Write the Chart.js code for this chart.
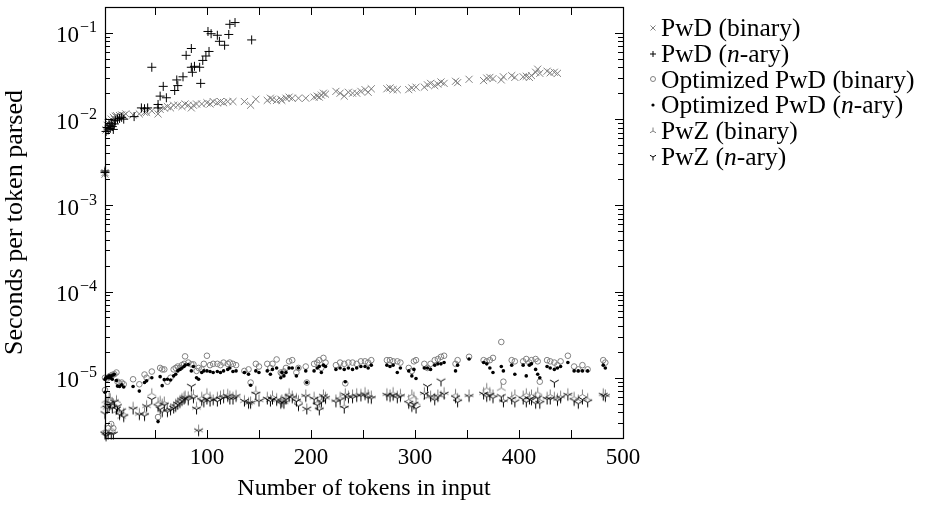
<!DOCTYPE html>
<html>
<head>
<meta charset="utf-8">
<script src="https://cdn.jsdelivr.net/npm/chart.js@4.4.1/dist/chart.umd.min.js"></script>
<style>
html,body{margin:0;padding:0;background:#fff;}
#wrap{position:relative;width:929px;height:508px;}
#c{position:absolute;left:0;top:0;}
#legend{position:absolute;left:646px;top:15px;font-family:"Liberation Serif","Times New Roman",serif;font-size:25.5px;color:#000;}
.row{height:25.8px;line-height:25.8px;white-space:nowrap;display:flex;align-items:center;}
.row canvas{width:14px;height:14px;margin-right:1px;flex:none;}
</style>
</head>
<body>
<div id="wrap"><canvas id="c" width="929" height="508"></canvas><div id="legend"></div></div>
<script>
// ---------------- DATA ----------------
const seriesNames = ['PwD (binary)', 'PwD (n-ary)', 'Optimized PwD (binary)', 'Optimized PwD (n-ary)', 'PwZ (binary)', 'PwZ (n-ary)'];

// PwD (binary): token counts and seconds per token, in milliseconds
const pwdBinTokens = [2,2,3,4,5,6,7,8,9,10, 11,12,13,14,16,18,20,22,29,35, 40,42,47,53,55,59,62,65,68,72, 76,79,82,85,87,90,95,100,103,106, 110,113,116,120,125,136,142,147,158,161, 163,167,171,172,176,179,182,188,195,203, 206,208,210,212,214,224,228,232,236,240, 244,248,252,255,258,273,276,279,283,294, 297,301,309,312,315,319,322,325,328,339, 341,352,366,369,372,375,383,385,393,396, 404,407,410,412,416,418,420,427,430,434, 437];
const pwdBinMs = [2.4,2.3,7.5,8.5,9.0,9.5,8.0,10,9.2,10.5, 10,10.8,11,10.5,11,11.2,11,11.5,11.2,11.5, 12,12,12.5,11.5,13,13.5,14,13.5,14.5,14.5, 14,15,14.5,13.5,14.5,15,15,15.5,15,16, 15.5,16,15.5,16,16,16,14.5,17,16.5,17.5, 17,16.5,17,16.5,17.5,18,17.5,17.5,17.5,18, 18.5,18,19,20,19.5,21,20,18.5,20.5,20, 20,21,22,20.5,22.5,22.5,23,22,22,22, 23,23.5,23.5,25,26,24.5,25.5,27,26,27.5, 26.5,29,28,30,30.5,29.5,28.5,31,32,30.5, 31,31.5,30.5,32,35,38,34,36,34.5,35, 34];

// PwD (n-ary): token counts and milliseconds per token
const pwdNaryTokens = [2,2,3,4,5,6,7,8,9,10, 11,12,14,16,18,20,30,37,40,43, 47,53,53,55,58,61,69,71,72,77, 80,85,85,86,88,93,94,96,99,101, 102,104,110,112,117,121,122,127,143];
const pwdNaryMs = [2.4,2.5,7.2,8.0,7.5,8.5,7.8,9.0,8.2,7.6, 8.8,9.6,10,10.2,10.5,10,10.7,13.5,13.2,13.5, 40,13.5,14.8,18.5,24,17.7,21.5,28.5,24.5,31, 55,66,40,35,41,40,26,48,54,104, 61,98,94,80,72,96,126,132,83];

// Shared inputs for the optimized PwD and PwZ runs (token counts)
const tokens = [2,2,3,4,5,6,7,8,9,10, 11,13,14,16,18,20,29,35,40,42, 47,53,55,57,59,62,65,68,70,72, 74,76,78,79,82,85,87,90,92,95, 97,100,103,106,110,113,116,120,122,125, 128,136,140,142,147,150,158,161,163,167, 171,172,174,176,179,182,186,188,195,196, 203,206,208,210,212,214,224,228,232,233, 236,240,244,248,252,255,258,273,276,279, 283,286,294,297,299,301,309,312,315,319, 322,325,328,339,341,352,366,369,372,375, 383,385,393,396,404,407,410,412,416,418, 420,427,430,434,437,440,447,453,457,461, 466,481,483];

// Seconds per token parsed, in microseconds
const optBinUs = [7.2,10,2.3,9.8,2.6,10.3,10.5,2.9,10.8,2.6, 11,11.5,9.0,8.6,8.8,8.4,9.6,8.4,10.9,10, 11.8,3.5,13,12.5,12.5,9.0,10,12.5,13,13.5, 13,14,14.5,17.7,15,14.3,14.3,12,13,12.5, 14.5,18,14,14.5,14.5,14,15,14.5,15,14.5, 14,12,12.5,8.8,14.5,13.5,14.5,13,14.5,16.3, 11.5,11.2,11.8,13,15.5,16,11.5,13,13.5,8.8, 14.5,15,16,13,17,15,14,15,14.5,8.6, 15,15,14.5,15.5,15.5,15,16,16,16,15.5, 15.5,15,13,12,15.5,16,14.5,13,14.5,16, 16.5,17.5,18,14.5,16,17.5,16,15.5,16,17, 26,9.0,16,15.5,15.5,16.5,15,16,16.5,15.5, 9.0,16,15.5,15,14,15.5,18,13.5,12.5,14, 12.5,16,15];
const optNaryUs = [6.8,9.6,10,10.2,10,10.5,10,10.5,9.6,10.8, 11,9.3,8.0,7.9,8.3,7.8,7.9,7.0,8.8,9.2, 10,3.1,10.3,8.1,9.5,9.6,9.4,10.5,11,12, 12.5,13,13.5,14,14.2,12,13.5,10,9.6,11.5, 12,12,11.8,11.5,11.8,11.5,12,12.5,13,11.8, 12,11.5,11,8.2,12,11.5,12,11,12.5,13, 10,11.5,10.5,11.5,13,13,10.5,13,12,8.8, 12,13,13.5,11.5,14,13.5,12.5,13,12.5,9.0, 13,12.5,13,13.5,13.5,13,14,14,13.5,14, 11.5,13,12,10.5,12.5,9.8,13,13,12.5,14, 14.5,14.5,15,12,14,16.5,15,14.5,13,11.5, 13.5,12,14,11,14,10.5,14,14.5,12.5,11, 10,13.5,13,12.5,13,13.5,15,12,12,12, 12,14,13];
const pwzBinUs = [2.5,4.8,5.5,4.6,5.3,6.0,5.8,2.6,5.2,5.0, 4.6,5.5,4.2,4.0,3.6,3.9,4.6,3.9,4.0,4.8, 6.6,5.2,5.4,5.0,5.3,4.4,4.4,4.6,5.0,5.2, 5.5,5.8,6.0,6.2,6.1,6.0,6.4,4.6,2.5,6.0, 5.6,6.6,6.0,5.6,6.0,6.2,6.4,6.5,6.2,6.0, 6.3,5.5,5.2,5.3,7.0,5.6,6.0,5.6,6.2,5.8, 5.4,5.6,5.3,5.8,6.6,6.2,5.8,5.5,6.4,4.4, 6.0,5.3,4.6,5.6,6.4,6.0,5.6,6.0,4.8,6.6, 6.2,6.4,6.6,6.5,6.8,6.4,6.2,6.6,6.4,6.8, 6.2,6.5,5.6,6.4,6.0,5.2,6.8,6.0,6.2,5.8, 6.4,6.2,6.8,6.5,5.8,6.4,6.8,7.6,6.8,6.4, 7.6,5.6,6.0,6.4,6.2,6.6,6.0,6.4,6.0,6.8, 5.6,6.0,6.4,6.0,5.8,6.2,6.6,6.0,5.6,6.4, 5.8,6.6,6.4];
const pwzNaryUs = [2.2,3.8,2.1,4.4,2.2,4.7,5.0,2.2,4.4,2.2, 5.2,4.3,4.6,3.7,4.1,3.5,4.3,3.7,3.6,4.6, 5.6,4.6,4.3,4.0,4.8,4.0,4.2,4.4,4.6,4.9, 5.1,5.4,5.6,5.8,5.5,7.9,5.8,4.3,2.4,5.4, 5.2,5.6,5.3,5.5,5.3,5.6,5.8,6.0,5.6,5.6, 6.0,5.3,5.0,5.0,6.4,5.3,5.6,5.3,5.6,5.4, 5.0,5.2,5.0,5.6,6.0,5.8,5.3,4.7,6.0,4.3, 5.6,4.8,4.2,5.2,6.0,5.7,5.2,5.5,4.4,6.2, 5.8,5.8,6.0,6.1,6.3,5.8,5.7,6.2,6.0,6.2, 5.8,6.0,5.0,4.6,4.9,4.4,6.4,7.9,6.0,5.5, 6.0,9.1,6.4,5.8,5.2,6.0,6.4,6.0,6.2,5.8, 6.0,5.2,5.6,5.2,5.6,5.2,5.6,5.5,5.0,5.8, 5.0,5.6,5.6,8.8,5.4,5.8,6.2,5.4,5.0,5.6, 5.2,6.2,6.0];

// Axis ticks
const xTickValues = [50,100,150,200,250,300,350,400,450,500];
const xTickLabels = ['', '100', '', '200', '', '300', '', '400', '', '500'];
const yMin = 2e-6, yMax = 0.2;
const yDecades = [-6,-5,-4,-3,-2,-1];
const yExponentLabels = ['−6','−5','−4','−3','−2','−1'];

// ---------------- RENDERING ----------------
const FONT = '"Liberation Serif", "Times New Roman", serif';
const GRAY = '#808080';
const BLACK = '#000000';

function makeTri(stemUp, color, r) {
  const size = Math.ceil(r * 2 + 3);
  const c = document.createElement('canvas');
  c.width = size; c.height = size;
  const g = c.getContext('2d');
  const cx = size / 2, cy = size / 2;
  g.strokeStyle = color; g.lineWidth = 1;
  g.beginPath();
  const angles = stemUp ? [-90, 30, 150] : [90, -30, -150];
  angles.forEach(a => {
    const rad = a * Math.PI / 180;
    g.moveTo(cx, cy);
    g.lineTo(cx + r * Math.cos(rad), cy + r * Math.sin(rad));
  });
  g.stroke();
  return c;
}
const triUpGray = makeTri(true, GRAY, 5);
const triDownBlack = makeTri(false, BLACK, 5);

// y ticks: 1..9 x 10^k inside the range; decade index for majors
const yTicks = [];
const yTickDecade = [];
yDecades.forEach((k, ki) => {
  for (let m = 1; m <= 9; m++) {
    const v = m * Math.pow(10, k);
    if (v >= yMin * 0.999 && v <= yMax * 1.001) {
      yTicks.push(v);
      yTickDecade.push(m === 1 ? ki : -1);
    }
  }
});

function pts(xs, ys, scale) {
  return xs.map((x, i) => ({x: x, y: ys[i] * scale}));
}

const datasets = [
  {label: seriesNames[0], data: pts(pwdBinTokens, pwdBinMs, 1e-3), pointStyle: 'crossRot', pointRadius: 5,
   pointBorderColor: GRAY, pointBackgroundColor: GRAY, pointBorderWidth: 1, order: 5},
  {label: seriesNames[1], data: pts(pwdNaryTokens, pwdNaryMs, 1e-3), pointStyle: 'cross', pointRadius: 4.5,
   pointBorderColor: BLACK, pointBackgroundColor: BLACK, pointBorderWidth: 1, order: 4},
  {label: seriesNames[2], data: pts(tokens, optBinUs, 1e-6), pointStyle: 'circle', pointRadius: 2.8,
   pointBorderColor: GRAY, pointBackgroundColor: 'rgba(0,0,0,0)', pointBorderWidth: 1, order: 3},
  {label: seriesNames[3], data: pts(tokens, optNaryUs, 1e-6), pointStyle: 'circle', pointRadius: 1.8,
   pointBorderColor: BLACK, pointBackgroundColor: BLACK, pointBorderWidth: 0, order: 2},
  {label: seriesNames[4], data: pts(tokens, pwzBinUs, 1e-6), pointStyle: triUpGray, pointRadius: 5,
   pointBorderColor: GRAY, pointBackgroundColor: GRAY, pointBorderWidth: 1, order: 1},
  {label: seriesNames[5], data: pts(tokens, pwzNaryUs, 1e-6), pointStyle: triDownBlack, pointRadius: 5,
   pointBorderColor: BLACK, pointBackgroundColor: BLACK, pointBorderWidth: 1, order: 0}
];
datasets.forEach(d => { d.clip = false; d.showLine = false; d.pointHoverRadius = d.pointRadius; });

const framePlugin = {
  id: 'frame',
  afterDraw(chart) {
    const {ctx, chartArea: a} = chart;
    const xs = chart.scales.x, ys = chart.scales.y;
    ctx.save();
    ctx.strokeStyle = '#000';
    ctx.lineWidth = 1;
    ctx.beginPath();
    xTickValues.forEach(v => {
      const px = Math.round(xs.getPixelForValue(v)) + 0.5;
      ctx.moveTo(px, a.bottom); ctx.lineTo(px, a.bottom - 8);
      ctx.moveTo(px, a.top); ctx.lineTo(px, a.top + 8);
    });
    yTicks.forEach((v, i) => {
      const py = Math.round(ys.getPixelForValue(v)) + 0.5;
      const len = yTickDecade[i] >= 0 ? 8 : 5;
      ctx.moveTo(a.left, py); ctx.lineTo(a.left + len, py);
      ctx.moveTo(a.right, py); ctx.lineTo(a.right - len, py);
    });
    ctx.stroke();
    ctx.lineWidth = 1.2;
    ctx.strokeRect(Math.round(a.left) + 0.5, Math.round(a.top) + 0.5, Math.round(a.right - a.left), Math.round(a.bottom - a.top));

    // y tick labels: "10" with a raised exponent
    ctx.fillStyle = '#000';
    ctx.textBaseline = 'alphabetic';
    yTicks.forEach((v, i) => {
      const d = yTickDecade[i];
      if (d < 0) return;
      const py = ys.getPixelForValue(v);
      ctx.font = '16px ' + FONT;
      const ew = ctx.measureText(yExponentLabels[d]).width;
      const right = a.left - 8;
      ctx.textAlign = 'left';
      ctx.fillText(yExponentLabels[d], right - ew, py - 0.5);
      ctx.font = '23px ' + FONT;
      ctx.textAlign = 'right';
      ctx.fillText('10', right - ew - 1, py + 9.5);
    });
    ctx.restore();
  }
};

Chart.defaults.font.family = FONT;
Chart.defaults.color = '#000';

new Chart(document.getElementById('c'), {
  type: 'scatter',
  data: {datasets: datasets},
  plugins: [framePlugin],
  options: {
    responsive: false,
    animation: false,
    devicePixelRatio: 1,
    layout: {padding: {left: 0, top: 7, right: 306, bottom: 0}},
    plugins: {legend: {display: false}, tooltip: {enabled: false}},
    events: [],
    scales: {
      x: {
        type: 'linear', min: 2, max: 500,
        grid: {display: false, drawTicks: false},
        border: {display: false},
        afterBuildTicks: s => { s.ticks = xTickValues.map(v => ({value: v})); },
        afterFit: s => { s.height = 70; s.paddingLeft = 0; s.paddingRight = 0; },
        ticks: {autoSkip: false, maxRotation: 0, minRotation: 0, padding: 6, color: '#000',
                font: {family: FONT, size: 23},
                callback: (v, i) => xTickLabels[i] ? xTickLabels[i] : null},
        title: {display: true, text: 'Number of tokens in input', color: '#000',
                font: {family: FONT, size: 24}, padding: {top: 0, bottom: 5}}
      },
      y: {
        type: 'logarithmic', min: yMin, max: yMax,
        grid: {display: false, drawTicks: false},
        border: {display: false},
        afterBuildTicks: s => { s.ticks = yTicks.map(v => ({value: v})); },
        afterFit: s => { s.width = 105; s.paddingTop = 0; s.paddingBottom = 0; },
        ticks: {display: false},
        title: {display: true, text: 'Seconds per token parsed', color: '#000',
                font: {family: FONT, size: 26}, padding: {top: 0, bottom: 0}}
      }
    }
  }
});

// ---------------- LEGEND (HTML, mixed italic) ----------------
function legendMarker(kind) {
  const c = document.createElement('canvas');
  c.width = 14; c.height = 14;
  const g = c.getContext('2d');
  const cx = 7, cy = 7;
  g.lineWidth = 1;
  if (kind === 0) {
    g.strokeStyle = GRAY; g.beginPath();
    g.moveTo(cx - 2.5, cy - 2.5); g.lineTo(cx + 2.5, cy + 2.5);
    g.moveTo(cx + 2.5, cy - 2.5); g.lineTo(cx - 2.5, cy + 2.5); g.stroke();
  } else if (kind === 1) {
    g.strokeStyle = BLACK; g.beginPath();
    g.moveTo(cx - 3, cy); g.lineTo(cx + 3, cy);
    g.moveTo(cx, cy - 3); g.lineTo(cx, cy + 3); g.stroke();
  } else if (kind === 2) {
    g.strokeStyle = GRAY; g.beginPath(); g.arc(cx, cy, 2.5, 0, Math.PI * 2); g.stroke();
  } else if (kind === 3) {
    g.fillStyle = BLACK; g.beginPath(); g.arc(cx, cy, 1.6, 0, Math.PI * 2); g.fill();
  } else {
    const img = makeTri(kind === 4, kind === 4 ? GRAY : BLACK, 3.5);
    g.drawImage(img, cx - img.width / 2, cy - img.height / 2);
  }
  return c;
}
const legend = document.getElementById('legend');
seriesNames.forEach((name, i) => {
  const row = document.createElement('div');
  row.className = 'row';
  row.appendChild(legendMarker(i));
  const span = document.createElement('span');
  const parts = name.split('n-ary');
  if (parts.length === 2) {
    span.appendChild(document.createTextNode(parts[0]));
    const it = document.createElement('i'); it.textContent = 'n';
    span.appendChild(it);
    span.appendChild(document.createTextNode('-ary' + parts[1]));
  } else {
    span.textContent = name;
  }
  row.appendChild(span);
  legend.appendChild(row);
});
</script>
</body>
</html>
